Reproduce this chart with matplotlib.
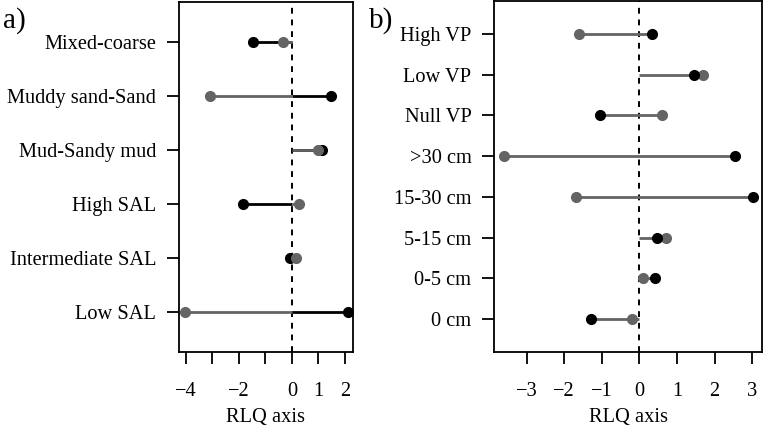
import numpy as np
import matplotlib.pyplot as plt

plt.rcParams['font.family'] = ['Liberation Serif', 'DejaVu Serif']

# panel a) data (top to bottom)
labels_a = ['Mixed-coarse', 'Muddy sand-Sand', 'Mud-Sandy mud',
            'High SAL', 'Intermediate SAL', 'Low SAL']
black_a = [-1.47, 1.47, 1.13, -1.85, -0.09, 2.11]
grey_a = [-0.34, -3.10, 1.00, 0.27, 0.14, -4.01]

# panel b) data (top to bottom)
labels_b = ['High VP', 'Low VP', 'Null VP', '>30 cm',
            '15-30 cm', '5-15 cm', '0-5 cm', '0 cm']
black_b = [0.33, 1.46, -1.05, 2.55, 3.03, 0.48, 0.42, -1.29]
grey_b = [-1.60, 1.69, 0.60, -3.60, -1.68, 0.70, 0.09, -0.20]

GREY = '#646464'
W, H = 767, 446
fig = plt.figure(figsize=(W / 100, H / 100), dpi=100)


def px_axes(x0, x1, y0, y1):
    return fig.add_axes([x0 / W, 1 - y1 / H, (x1 - x0) / W, (y1 - y0) / H])


def style(ax):
    for s in ax.spines.values():
        s.set_linewidth(1.3)
    ax.tick_params(axis='both', direction='out', length=8.5, width=1.3,
                   labelsize=14.7, colors='black')
    ax.tick_params(axis='y', pad=8)
    ax.tick_params(axis='x', pad=13)
    ax.set_xlabel('RLQ axis', fontsize=14.7, labelpad=5)


# ---- a)
ax = px_axes(179, 353, 2, 352)
n = len(labels_a)
y = np.arange(n, 0, -1)
ax.axvline(0, color='black', ls=(0, (3, 3)), lw=1.4, zorder=1)
ax.hlines(y, 0, black_a, color='black', lw=2, zorder=2)
ax.hlines(y, 0, grey_a, color=GREY, lw=2, zorder=3)
ax.plot(black_a, y, 'o', color='black', ms=7, zorder=4)
ax.plot(grey_a, y, 'o', color=GREY, ms=7, zorder=5)
ax.set_xlim(-4.25, 2.30)
ax.set_ylim(1 - 40 / 54, n + 40 / 54)
ax.set_yticks(y)
ax.set_yticklabels(labels_a)
ax.set_xticks(np.arange(-4, 3))
ax.set_xticklabels(['\u22124', '', '\u22122', '', '0', '1', '2'])
style(ax)
fig.text(3 / W, 1 - 21 / H, 'a)', fontsize=21, va='center', ha='left')

# ---- b)
bx = px_axes(494.3, 762.3, 1, 352)
m = len(labels_b)
yb = np.arange(m, 0, -1)
bx.axvline(0, color='black', ls=(0, (3, 3)), lw=1.4, zorder=1)
lo = np.minimum(0, np.minimum(black_b, grey_b))
hi = np.maximum(0, np.maximum(black_b, grey_b))
bx.hlines(yb, lo, hi, color=GREY, lw=2, zorder=2)
bx.plot(grey_b, yb, 'o', color=GREY, ms=7, zorder=4)
bx.plot(black_b, yb, 'o', color='black', ms=7, zorder=5)
bx.set_xlim(-3.86, 3.27)
bx.set_ylim(1 - 33 / 40.7, m + 33 / 40.7)
bx.set_yticks(yb)
bx.set_yticklabels(labels_b)
bx.set_xticks(np.arange(-3, 4))
bx.set_xticklabels(['\u22123', '\u22122', '\u22121', '0', '1', '2', '3'])
style(bx)
fig.text(369 / W, 1 - 21 / H, 'b)', fontsize=21, va='center', ha='left')

fig.savefig('out.png', dpi=100)
